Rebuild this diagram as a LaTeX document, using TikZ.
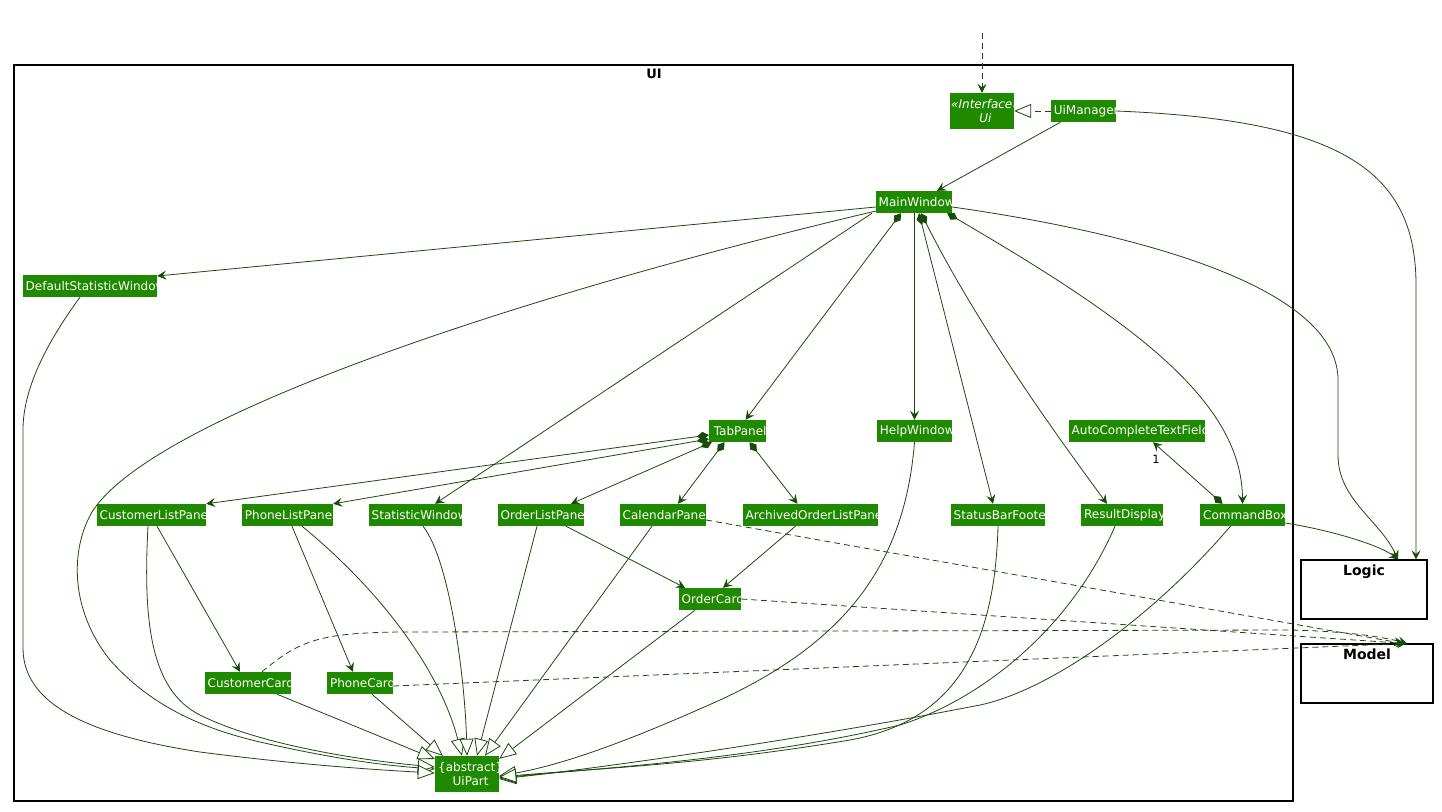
\documentclass[tikz,border=0pt]{standalone}
\usepackage{fontspec}
\setmainfont{DejaVu Sans}
\usetikzlibrary{arrows.meta}
\definecolor{nodegreen}{HTML}{1F8A00}
\definecolor{linegreen}{HTML}{184A08}
\newcommand\umlcls[6]{%
  \node[cls, minimum width={#4-#2}, minimum height={#5-#3},
    path picture={\node[txt, anchor=west] (#1-t) at ([xshift=2.5pt]path picture bounding box.west) {#6};}]
    (#1) at ({(#2+#4)/2},{(#3+#5)/2}) {};}
\newcommand\umlcltwo[7]{%
  \node[cls, minimum width={#4-#2}, minimum height={#5-#3},
    path picture={\node[txt, align=center, anchor=west, font=\fontsize{12}{14.5}\selectfont] (#1-t) at ([xshift=#7]path picture bounding box.west) {#6};}]
    (#1) at ({(#2+#4)/2},{(#3+#5)/2}) {};}
\tikzset{
  cls/.style={fill=nodegreen, draw=none, inner sep=0pt},
  txt/.style={text=white, inner sep=0pt, font=\fontsize{12}{14}\selectfont},
  ln/.style={draw=linegreen, line width=0.8pt},
  hd/.style={-{Stealth[length=9pt,width=9pt,inset=3.5pt]}},
  assoc/.style={ln, hd},
  comp/.style={ln, {Diamond[length=12pt,width=8pt]}-{Stealth[length=9pt,width=9pt,inset=3.5pt]}},
  ext/.style={ln, -{Triangle[length=17pt,width=14pt,fill=white]}},
  dep/.style={ln, hd, dash pattern=on 6pt off 4pt},
  real/.style={ext, dash pattern=on 6pt off 4pt},
  pkg/.style={draw=black, line width=1.2pt, fill=none},
  pkgtitle/.style={font=\bfseries\fontsize{14}{16}\selectfont, inner sep=0pt},
}
\begin{document}
\begin{tikzpicture}[x=1pt, y=-1pt]
\useasboundingbox (0,0) rectangle (1442,811);
% packages
\draw[pkg] (14,65) rectangle (1293,801);
\node[pkgtitle, font=\bfseries\fontsize{13}{15}\selectfont] (uilabel) at (654,74) {UI};
\node[draw=black, line width=1.2pt, minimum width=126pt, minimum height=59pt, inner sep=0pt] (logic) at (1364,589.5) {};
\node[pkgtitle, anchor=north] (logiclabel) at ([yshift=-5pt]logic.north) {Logic};
\node[draw=black, line width=1.2pt, minimum width=132pt, minimum height=59pt, inner sep=0pt] (model) at (1367,673.5) {};
\node[pkgtitle, anchor=north] (modellabel) at ([yshift=-5pt]model.north) {Model};
% classes
\umlcltwo{ui}{950}{93}{1014}{129}{\itshape «Interface»\\\itshape Ui}{1pt}
\umlcls{um}{1051}{100}{1116}{122}{UiManager}
\umlcls{mw}{876}{191}{952}{213}{MainWindow}
\umlcls{dsw}{23}{275}{157}{297}{DefaultStatisticWindow}
\umlcls{tp}{709}{420}{766}{442}{TabPanel}
\umlcls{hw}{877}{420}{952}{442}{HelpWindow}
\umlcls{atf}{1069}{420}{1205}{442}{AutoCompleteTextField}
\umlcls{clp}{97}{504}{206}{526}{CustomerListPanel}
\umlcls{plp}{242}{504}{333}{526}{PhoneListPanel}
\umlcls{sw}{369}{504}{462}{526}{StatisticWindow}
\umlcls{olp}{498}{504}{584}{526}{OrderListPanel}
\umlcls{cp}{620}{504}{706}{526}{CalendarPanel}
\umlcls{aolp}{743}{504}{878}{526}{ArchivedOrderListPanel}
\umlcls{sbf}{951}{504}{1045}{526}{StatusBarFooter}
\umlcls{rd}{1081}{504}{1163}{526}{ResultDisplay}
\umlcls{cb}{1200}{504}{1285}{526}{CommandBox}
\umlcls{oc}{679}{588}{741}{610}{OrderCard}
\umlcls{cc}{205}{672}{291}{694}{CustomerCard}
\umlcls{pc}{327}{672}{393}{694}{PhoneCard}
\umlcltwo{up}{435}{756}{499}{792}{\{abstract\}\\UiPart}{3pt}
% edges
\coordinate (topin) at (982,33);
\draw[dep] (topin) -- (ui.north);
\draw[real] (um.west) -- (ui.east);
\draw[assoc] ([xshift=-23pt]um.south) -- ([xshift=23pt]mw.north);
\draw[assoc] (um.east) .. controls (1340,120) and (1416,170) .. (1416,285) -- ([xshift=52pt]logic.north);
\draw[assoc] ([yshift=-5pt]mw.west) -- ([yshift=10pt]dsw.east);
\draw[ext] ([yshift=-9pt]mw.west) .. controls (500,300) and (150,420) .. (92,512) .. controls (70,550) and (70,610) .. (110,660) .. controls (150,705) and (200,728) .. (260,742) .. controls (330,758) and (380,765) .. ([yshift=5pt]up.west);
\draw[assoc] ([xshift=-42pt]mw.south) -- ([xshift=19.5pt]sw.north);
\draw[comp] ([xshift=-13pt]mw.south) -- ([xshift=8pt]tp.north);
\draw[assoc] ([xshift=0.5pt]mw.south) -- (hw.north);
\draw[comp] ([xshift=5pt]mw.south) -- ([xshift=-5pt]sbf.north);
\draw[comp] ([xshift=7pt]mw.south) .. controls (980,330) and (1060,440) .. ([xshift=-15pt]rd.north);
\draw[comp] ([xshift=-5pt]mw.south east) .. controls (1130,320) and (1242,400) .. (cb.north);
\draw[assoc] ([yshift=-5pt]mw.east) .. controls (1150,235) and (1338,290) .. (1338,380) -- (1338,455) .. controls (1338,500) and (1380,520) .. ([xshift=34pt]logic.north);
\draw[comp] ([yshift=-4pt]tp.west) -- (clp.north east);
\draw[comp] ([yshift=-8pt]tp.west) -- (plp.north east);
\draw[comp] ([xshift=3pt]tp.south west) -- ([xshift=30pt]olp.north);
\draw[comp] ([xshift=-13pt]tp.south) -- ([xshift=15pt]cp.north);
\draw[comp] ([xshift=12pt]tp.south) -- ([xshift=-13pt]aolp.north);
\draw[ext] (hw.south) .. controls (905,560) and (850,640) .. (720,700) .. controls (620,745) and (560,765) .. ([yshift=-2pt]up.east);
\draw[comp] ([xshift=-20pt]cb.north) -- node[pos=0.85, below left=0pt, font=\fontsize{11.5}{13}\selectfont] (one) {1} ([xshift=16pt]atf.south);
\draw[assoc] ([yshift=-8pt]cb.east) .. controls (1330,530) and (1380,545) .. ([xshift=34pt]logic.north);
\draw[ext] ([xshift=-12pt]cb.south) .. controls (1150,620) and (1050,690) .. (980,705) .. controls (800,740) and (600,768) .. ([yshift=-5pt]up.east);
\draw[ext] ([xshift=-7pt]rd.south) .. controls (1070,630) and (980,700) .. (900,725) .. controls (750,760) and (600,768) .. ([yshift=-4pt]up.east);
\draw[ext] (sbf.south) .. controls (995,640) and (960,720) .. (850,740) .. controls (700,765) and (600,768) .. ([yshift=-3pt]up.east);
\draw[assoc] ([xshift=5.5pt]clp.south) -- ([xshift=-8pt]cc.north);
\draw[ext] ([xshift=-3.5pt]clp.south) .. controls (143,620) and (150,690) .. (200,715) .. controls (260,745) and (360,760) .. ([yshift=7pt]up.west);
\draw[assoc] ([xshift=4.5pt]plp.south) -- ([xshift=-7pt]pc.north);
\draw[ext] ([xshift=14.5pt]plp.south) .. controls (380,590) and (440,670) .. ([xshift=-5pt]up.north);
\draw[ext] ([xshift=7.5pt]sw.south) .. controls (450,560) and (465,680) .. (up.north);
\draw[ext] ([xshift=-4pt]olp.south) -- ([xshift=10pt]up.north);
\draw[assoc] ([xshift=25pt]olp.south) -- ([xshift=-25pt]oc.north);
\draw[ext] ([xshift=-11pt]cp.south) -- ([xshift=18pt]up.north);
\draw[dep] ([yshift=-5pt]cp.east) -- ([xshift=36pt]model.north);
\draw[assoc] ([xshift=-15pt]aolp.south) -- ([xshift=13pt]oc.north);
\draw[ext] ([xshift=-15pt]oc.south) -- ([yshift=-3pt]up.north east);
\draw[dep] (oc.east) -- ([xshift=38pt]model.north);
\draw[dep] ([xshift=14pt]cc.north) .. controls (300,640) and (320,633) .. (400,632) -- (1290,630) .. controls (1340,631) and (1380,636) .. ([xshift=40pt]model.north);
\draw[dep] ([yshift=-3pt]pc.east) -- ([xshift=39pt]model.north);
\draw[ext] ([xshift=29pt]cc.south) -- ([yshift=15pt]up.west);
\draw[ext] ([xshift=12pt]pc.south) -- ([xshift=8pt]up.north west);
\draw[ext] ([xshift=-10pt]dsw.south) .. controls (45,345) and (23,390) .. (23,430) -- (23,648) .. controls (23,705) and (90,735) .. (200,752) .. controls (300,765) and (380,770) .. ([yshift=1pt]up.west);
\end{tikzpicture}
\end{document}
